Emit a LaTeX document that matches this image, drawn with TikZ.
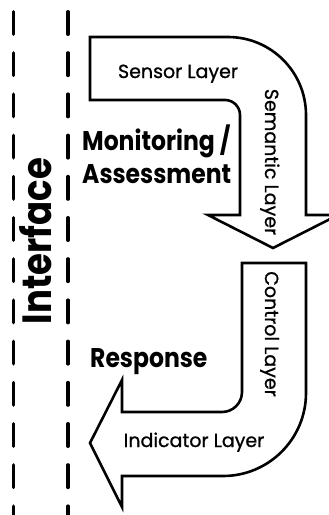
\documentclass[tikz,border=0pt]{standalone}
\usepackage{fontspec}
\setmainfont{Poppins}
\newfontfamily\layerfont{Poppins}[FakeBold=0.9]
\usepackage{tikz}
\usetikzlibrary{
  positioning,
  calc
}
\tikzstyle{layerarrow}=[line width=2.6pt, line join=miter, fill=white]
\tikzstyle{lane}=[line width=3.5pt, line cap=round, dash pattern=on 22.5pt off 18.7pt]
\tikzstyle{layer}=[inner sep=0pt, font=\layerfont\fontsize{19}{23}\selectfont]
\tikzstyle{phase}=[inner sep=0pt, yscale=1.15, font=\fontsize{23.5}{28}\selectfont\bfseries]

\begin{document}
\begin{tikzpicture}[x=1pt, y=-1pt]
      \useasboundingbox (0,0) rectangle (329,515);
      \clip (0,0) rectangle (329,515);

      % 破線の境界
      \coordinate (L1) at (13.5,11.75);
      \coordinate (L2) at (68,11.75);
      \draw[lane] (L1) -- (L1 |- 0,530);
      \draw[lane] (L2) -- (L2 |- 0,530);

      % インタフェース
      \node (iface) at (52,241) [anchor=base, inner sep=0pt, xscale=1.15, rotate=90,
        font=\fontsize{35.5}{40}\selectfont\bfseries]{Interface};

      % 上の矢印 (Sensor -> Semantic)
      \draw[layerarrow] (90,37) -- (228,37) arc[start angle=-90, end angle=0, radius=78]
        -- (306,215) -- (338,215) -- (273,248) -- (208,215) -- (240,215)
        -- (240,115) arc[start angle=0, end angle=-90, radius=15] -- (90,100) -- cycle;

      % 下の矢印 (Control -> Indicator)
      \draw[layerarrow] (242,263) -- (306,263) -- (306,393) arc[start angle=0, end angle=90, radius=83]
        -- (122,476) -- (122,507) -- (90,443) -- (122,380) -- (122,412)
        -- (222,412) arc[start angle=90, end angle=0, radius=20] -- cycle;

      % 層の名前
      \node (sensor) at (178,78) [layer, anchor=base]{Sensor Layer};
      \node (semantic) at (265,162) [layer, anchor=base, rotate=-90]{Semantic Layer};
      \node (control) at (265,334) [layer, anchor=base, rotate=-90]{Control Layer};
      \node (indicator) at (194,447) [layer, anchor=base]{Indicator Layer};

      % 段階の名前
      \node (monitor) at (82,150) [phase, anchor=base west]{Monitoring /};
      \node (assess) at (82,183) [phase, anchor=base west]{Assessment};
      \node (response) at (90,367) [phase, anchor=base west]{Response};
    \end{tikzpicture}
\end{document}
